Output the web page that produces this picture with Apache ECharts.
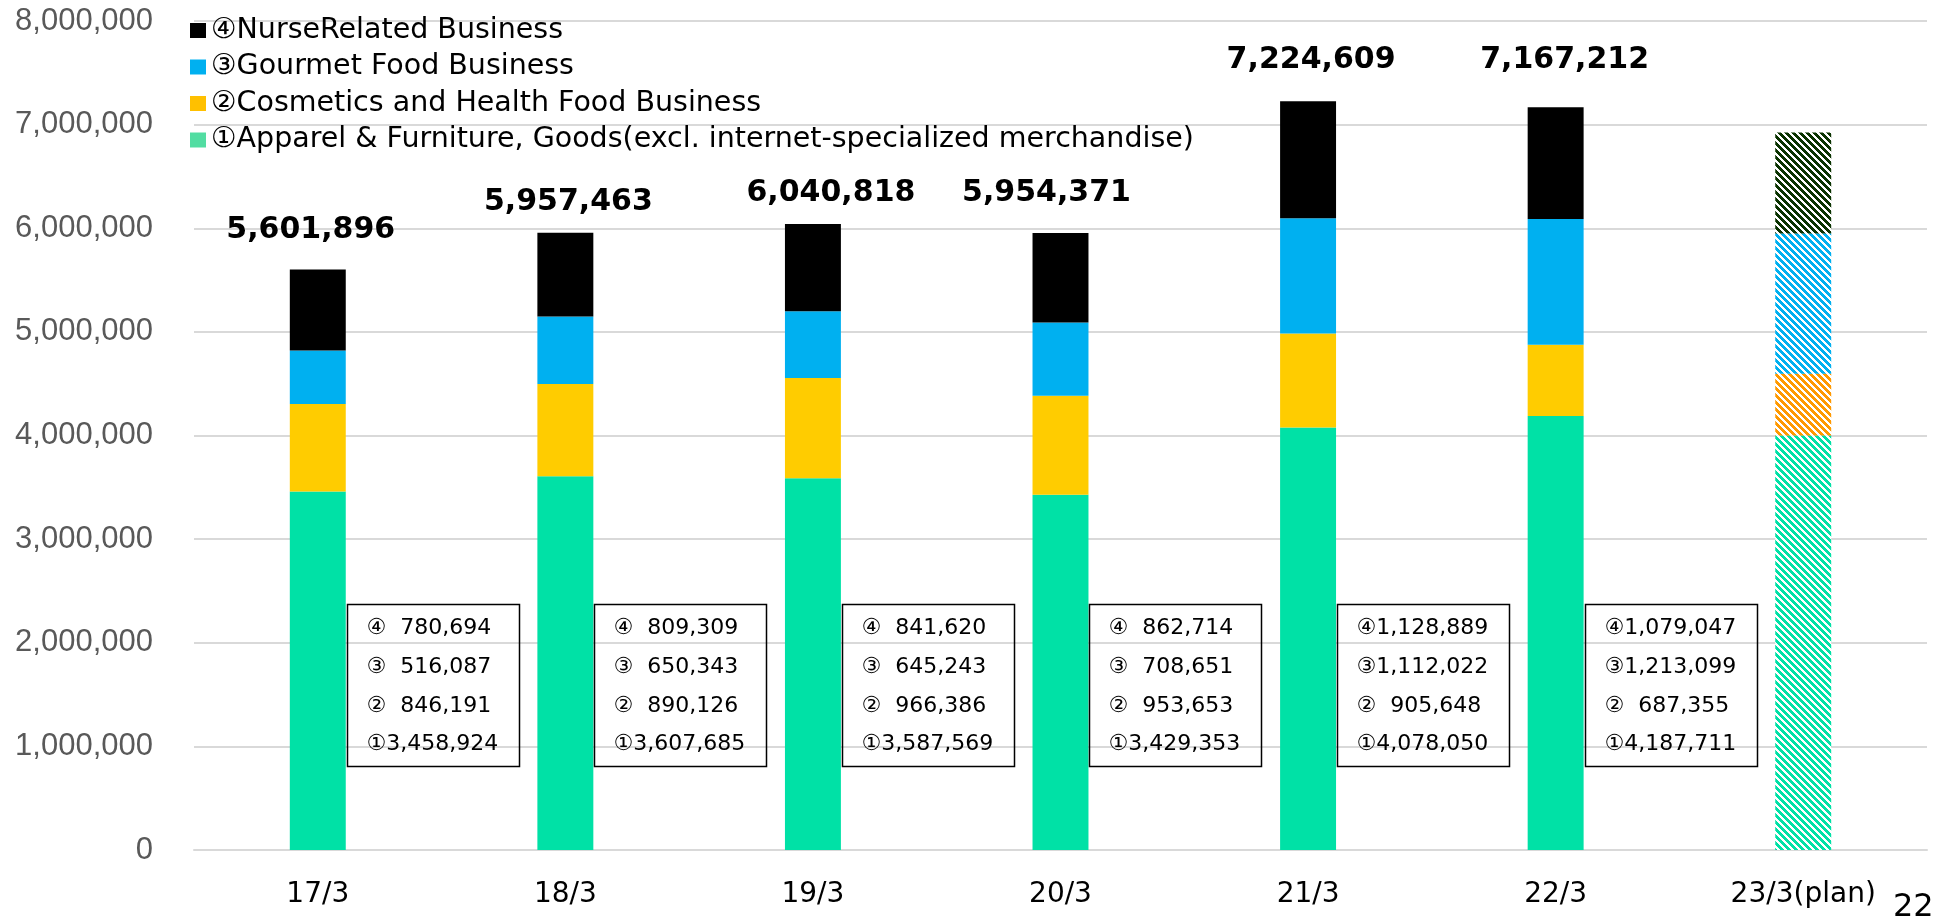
<!DOCTYPE html>
<html>
<head>
<meta charset="utf-8">
<title>Net sales by business segment</title>
<script src="https://cdn.jsdelivr.net/npm/echarts@6/dist/echarts.min.js"></script>
<style>
  html, body { margin: 0; padding: 0; background: #fff; }
  #chart { width: 1933px; height: 916px; }
</style>
</head>
<body>
<div id="chart"></div>
<script>
// Fiscal years (March year-end); the last one is the plan
const categories = ['17/3', '18/3', '19/3', '20/3', '21/3', '22/3', '23/3(plan)'];

// Segment sales, thousand yen
const apparelFurniture = [3458924, 3607685, 3587569, 3429353, 4078050, 4187711, 4000000];
const cosmeticsHealth  = [846191, 890126, 966386, 953653, 905648, 687355, 595000];
const gourmetFood      = [516087, 650343, 645243, 708651, 1112022, 1213099, 1355000];
const nurseRelated     = [780694, 809309, 841620, 862714, 1128889, 1079047, 975000];

// Stated totals (none for the plan year)
const totals = [5601896, 5957463, 6040818, 5954371, 7224609, 7167212, null];

const seriesNames = [
  '①Apparel & Furniture, Goods(excl. internet-specialized merchandise)',
  '②Cosmetics and Health Food Business',
  '③Gourmet Food Business',
  '④NurseRelated Business'
];

const yTicks = { min: 0, max: 8000000, interval: 1000000 };

// ---- styling ----
const solidColors = ['#00E1A6', '#FFCC00', '#00B0F0', '#000000'];
const stripeColors = ['#00E1A6', '#FF9900', '#00B0F0', '#0A3300'];
const legendColors = ['#52DDA2', '#FFC000', '#00B0F0', '#000000'];
const planIndex = categories.length - 1;
const boxCenterValue = 1593000;

// small nudges for the total labels above each bar [dx, dy]
const totalLabelNudge = [[-7, -24], [3, -15], [18, -16], [-14, -25], [3, -26], [9, -32]];

function stripePattern(color) {
  const n = 7;
  const c = document.createElement('canvas');
  c.width = n; c.height = n;
  const ctx = c.getContext('2d');
  ctx.fillStyle = '#ffffff';
  ctx.fillRect(0, 0, n, n);
  ctx.fillStyle = color;
  for (let y = 0; y < n; y++) {
    for (let x = 0; x < n; x++) {
      if ((((x - y) % n) + n) % n < 4) ctx.fillRect(x, y, 1, 1);
    }
  }
  return { image: c, repeat: 'repeat' };
}

const fmt = v => v.toLocaleString('en-US');
const circled = ['①', '②', '③', '④'];
const segmentArrays = [apparelFurniture, cosmeticsHealth, gourmetFood, nurseRelated];

function buildBarSeries(k) {
  const values = segmentArrays[k];
  const series = {
    name: seriesNames[k],
    type: 'bar',
    stack: 'sales',
    barWidth: '22.6%',
    itemStyle: { color: solidColors[k] },
    emphasis: { disabled: true },
    data: values.map((v, i) => {
      if (i === planIndex) {
        return { value: v, itemStyle: { color: stripePattern(stripeColors[k]) } };
      }
      return v;
    })
  };
  if (k === 3) {
    series.data = series.data.map((d, i) => {
      const item = typeof d === 'object' ? d : { value: d };
      if (totals[i] != null) {
        item.label = {
          show: true,
          position: 'top',
          distance: 0,
          offset: totalLabelNudge[i],
          formatter: () => fmt(totals[i]),
          fontFamily: 'DejaVu Sans',
          fontWeight: 'bold',
          fontSize: 30,
          lineHeight: 30,
          color: '#000'
        };
      }
      return item;
    });
  }
  return series;
}

// breakdown boxes beside each actual-year bar
const boxData = categories.slice(0, planIndex).map((c, i) => [i, boxCenterValue]);

function boxLines(i) {
  const lines = [];
  for (let k = 3; k >= 0; k--) {
    const v = segmentArrays[k][i];
    const pad = v < 1000000 ? '  ' : '';
    lines.push(circled[k] + pad + fmt(v));
  }
  return lines.join('\n');
}

const boxSeries = {
  type: 'custom',
  silent: true,
  z: 5,
  data: boxData,
  renderItem: function (params, api) {
    const i = api.value(0);
    const c = api.coord([i, api.value(1)]);
    const band = api.size([1, 0])[0];
    const barW = band * 0.226;
    const w = 172, h = 162;
    const x = Math.round(c[0] + barW / 2 + 1) + 0.5;
    const y = Math.round(c[1] - h / 2) + 0.5;
    return {
      type: 'group',
      children: [
        {
          type: 'rect',
          shape: { x: x, y: y, width: w, height: h },
          style: { fill: 'none', stroke: '#000', lineWidth: 1.5 }
        },
        {
          type: 'text',
          style: {
            x: x + 19,
            y: y + h / 2 + 1,
            text: boxLines(i),
            fill: '#000',
            fontFamily: 'DejaVu Sans',
            fontSize: 22,
            lineHeight: 38.6,
            align: 'left',
            verticalAlign: 'middle'
          }
        }
      ]
    };
  }
};

const chart = echarts.init(document.getElementById('chart'), null, { renderer: 'canvas' });

chart.setOption({
  animation: false,
  backgroundColor: '#ffffff',
  grid: { left: 194, right: 6, top: 21, bottom: 66 },
  legend: {
    orient: 'vertical',
    left: 185,
    top: 11,
    icon: 'rect',
    itemWidth: 16,
    itemHeight: 15,
    itemGap: 7.5,
    selectedMode: false,
    textStyle: { fontFamily: 'DejaVu Sans', fontSize: 28.5, lineHeight: 28.5, color: '#000' },
    data: [3, 2, 1, 0].map(k => ({ name: seriesNames[k], itemStyle: { color: legendColors[k] } }))
  },
  xAxis: {
    type: 'category',
    data: categories,
    axisTick: { show: false },
    axisLine: { lineStyle: { color: '#d9d9d9', width: 2 } },
    axisLabel: { margin: 31, fontFamily: 'DejaVu Sans', fontSize: 28, color: '#000' }
  },
  yAxis: {
    type: 'value',
    min: yTicks.min,
    max: yTicks.max,
    interval: yTicks.interval,
    axisLine: { show: false },
    axisTick: { show: false },
    splitLine: { lineStyle: { color: '#d9d9d9', width: 2 } },
    axisLabel: {
      margin: 41,
      fontFamily: 'Liberation Sans',
      fontSize: 31,
      color: '#595959',
      formatter: v => fmt(v)
    }
  },
  graphic: [
    {
      type: 'text',
      left: 1893,
      top: 892,
      style: { text: '22', fontFamily: 'DejaVu Sans', fontSize: 32, fill: '#000' }
    }
  ],
  series: [0, 1, 2, 3].map(buildBarSeries).concat([boxSeries])
});
</script>
</body>
</html>
